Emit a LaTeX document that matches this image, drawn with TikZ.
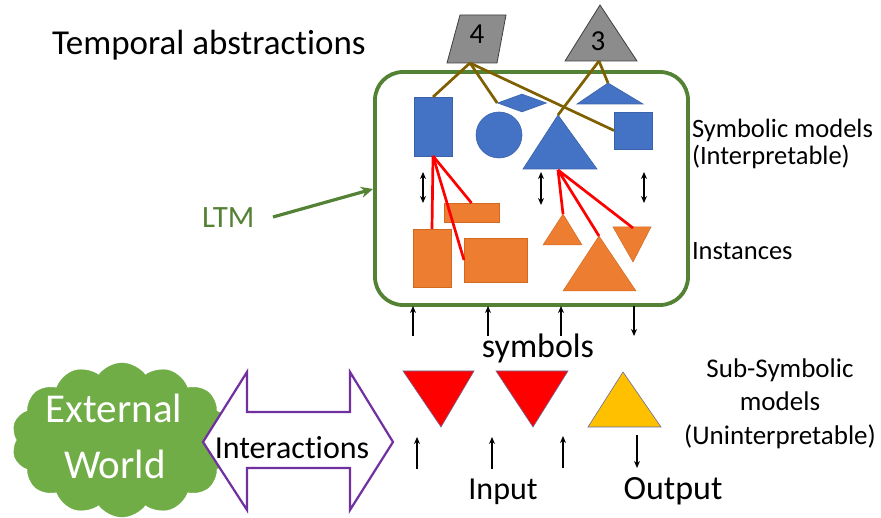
\documentclass[tikz,border=0pt]{standalone}
\usepackage{fontspec}
\setmainfont{Carlito}[Ligatures={CommonOff,ContextualOff}]
\usetikzlibrary{shapes.geometric,shapes.symbols,arrows.meta}
\definecolor{sblue}{HTML}{4472C4}
\definecolor{sblueline}{HTML}{3A62AA}
\definecolor{sorange}{HTML}{ED7D31}
\definecolor{sorline}{HTML}{D2691E}
\definecolor{cgreen}{HTML}{70AD47}
\definecolor{dgreen}{HTML}{548235}
\definecolor{brownl}{HTML}{7F6000}
\definecolor{purp}{HTML}{7030A0}
\definecolor{yel}{HTML}{FFC000}
\definecolor{gshape}{HTML}{8C8C8C}
\definecolor{gline}{HTML}{3F3F3F}
\definecolor{triline}{HTML}{6A6A9A}
\newcommand\fsz[1]{\fontsize{#1}{#1}\selectfont}
\begin{document}
\begin{tikzpicture}[x=1pt,y=-1pt,
  blueshape/.style={fill=sblue,draw=sblueline,line width=0.6pt},
  orshape/.style={fill=sorange,draw=sorline,line width=0.5pt},
  grayshape/.style={fill=gshape,draw=gline,line width=0.8pt},
  brownln/.style={draw=brownl,line width=2.7pt},
  redln/.style={draw=red,line width=2.7pt},
  arr/.style={line width=1.8pt,-{Stealth[length=7pt,width=6pt]}},
  darr/.style={line width=1.8pt,{Stealth[length=7pt,width=6pt]}-{Stealth[length=7pt,width=6pt]}},
  lbl/.style={inner sep=0pt,outer sep=0pt},
  rect/.style={rectangle,inner sep=0pt,outer sep=0pt}]
\useasboundingbox (0,0) rectangle (881,518);
\fill[white] (0,0) rectangle (881,518);

% Temporal abstraction shapes
\coordinate (p4a) at (460,15);
\coordinate (p4b) at (506,15);
\coordinate (p4c) at (497,63);
\coordinate (p4d) at (447,63);
\coordinate (p4bot) at (470,63);
\draw[grayshape] (p4a) -- (p4b) -- (p4c) -- (p4d) -- cycle;
\node[lbl] (four) at (477,34) {\fsz{29}4};
\coordinate (t3a) at (600,5);
\coordinate (t3l) at (565,61);
\coordinate (t3r) at (637,61);
\coordinate (t3bot) at (599,61);
\draw[grayshape] (t3a) -- (t3r) -- (t3l) -- cycle;
\node[lbl] (three) at (598,41) {\fsz{29}3};

% LTM box
\draw[dgreen,line width=3.8pt,rounded corners=28pt] (375,72) rectangle (688,305);
\coordinate (boxleft) at (373,189);

% Symbolic models (blue)
\node[rect,blueshape,minimum width=38pt,minimum height=59pt] (b1) at (433,126.5) {};
\node[circle,blueshape,minimum size=46pt,inner sep=0pt] (circ) at (499,135) {};
\node[diamond,blueshape,minimum width=49pt,minimum height=18pt,aspect=2.7,inner sep=0pt] (dia) at (522,103) {};
\coordinate (bta) at (558,115);
\coordinate (btl) at (523,169);
\coordinate (btr) at (597,169);
\coordinate (btbot) at (558,170);
\draw[blueshape] (bta) -- (btr) -- (btl) -- cycle;
\coordinate (sta) at (608,83);
\coordinate (stl) at (577,104);
\coordinate (str) at (643,104);
\draw[blueshape] (sta) -- (str) -- (stl) -- cycle;
\node[rect,blueshape,minimum width=38pt,minimum height=37pt] (sq) at (633,130.5) {};

% Instances (orange)
\node[rect,orshape,minimum width=55pt,minimum height=19pt] (thin) at (471.5,212.5) {};
\node[rect,orshape,minimum width=38pt,minimum height=58pt] (tall) at (432,258) {};
\node[rect,orshape,minimum width=63pt,minimum height=44pt] (wide) at (495.5,260) {};
\coordinate (ota) at (563,214);
\coordinate (otl) at (543,245);
\coordinate (otr) at (582,245);
\draw[orshape] (ota) -- (otr) -- (otl) -- cycle;
\coordinate (oba) at (599,236);
\coordinate (obl) at (563,291);
\coordinate (obr) at (636,291);
\draw[orshape] (oba) -- (obr) -- (obl) -- cycle;
\coordinate (oil) at (613,227);
\coordinate (oir) at (651,227);
\coordinate (oib) at (633,262);
\coordinate (oitop) at (633,228);
\draw[orshape] (oil) -- (oir) -- (oib) -- cycle;

% brown links
\draw[brownln] (p4bot) -- (b1.north);
\draw[brownln] (p4bot) -- (dia.west);
\draw[brownln] (p4bot) -- (sq.west);
\draw[brownln] (t3bot) -- (bta);
\draw[brownln] (t3bot) -- (sta);

% red links
\draw[redln] (b1.south) -- (tall.north);
\draw[redln] (b1.south) -- (wide.west);
\draw[redln] (b1.south) -- (thin.north);
\draw[redln] (btbot) -- (ota);
\draw[redln] (btbot) -- (oba);
\draw[redln] (btbot) -- (oitop);

% double arrows
\coordinate (d1t) at (423,172); \coordinate (d1b) at (423,203);
\coordinate (d2t) at (541,172); \coordinate (d2b) at (541,205);
\coordinate (d3t) at (644,172); \coordinate (d3b) at (644,203);
\draw[darr] (d1t) -- (d1b);
\draw[darr] (d2t) -- (d2b);
\draw[darr] (d3t) -- (d3b);

% labels right
\node[lbl,anchor=base west] (symmod) at (692,138) {\fsz{26.5}Symbolic models};
\node[lbl,anchor=base west] (interp) at (692,165) {\fsz{26.5}(Interpretable)};
\node[lbl,anchor=base west] (inst) at (692,260) {\fsz{26.5}Instances};

% title
\node[lbl,anchor=base west] (title) at (52,55) {\fsz{35}Temporal abstract\kern0pt ions};

% LTM
\node[lbl,anchor=base west,text=dgreen] (ltm) at (202,228) {\fsz{31}LTM};
\coordinate (ltms) at (273,217);
\draw[dgreen,line width=3.2pt,-{Stealth[length=12pt,width=11pt]}] (ltms) -- (boxleft);

% arrows between box and subsymbolic
\coordinate (u1b) at (413,336); \coordinate (u1t) at (413,306);
\coordinate (u2b) at (488,336); \coordinate (u2t) at (488,306);
\coordinate (u3b) at (561,336); \coordinate (u3t) at (561,306);
\coordinate (dnt) at (634,306); \coordinate (dnb) at (634,336);
\draw[arr] (u1b) -- (u1t);
\draw[arr] (u2b) -- (u2t);
\draw[arr] (u3b) -- (u3t);
\draw[arr] (dnt) -- (dnb);

\node[lbl,anchor=base] (symbols) at (538,358) {\fsz{34}symbols};

% sub-symbolic triangles
\coordinate (r1l) at (403,371); \coordinate (r1r) at (474,371); \coordinate (r1b) at (441,427);
\draw[fill=red,draw=triline,line width=0.6pt] (r1l) -- (r1r) -- (r1b) -- cycle;
\coordinate (r2l) at (496,371); \coordinate (r2r) at (568,371); \coordinate (r2b) at (533,427);
\draw[fill=red,draw=triline,line width=0.6pt] (r2l) -- (r2r) -- (r2b) -- cycle;
\coordinate (ya) at (623,372); \coordinate (yl) at (588,427); \coordinate (yr) at (661,427);
\draw[fill=yel,draw=triline,line width=0.6pt] (ya) -- (yr) -- (yl) -- cycle;

% lower arrows
\coordinate (i1b) at (417,469); \coordinate (i1t) at (417,437);
\coordinate (i2b) at (492,469); \coordinate (i2t) at (492,437);
\coordinate (i3b) at (563,468); \coordinate (i3t) at (563,436);
\coordinate (ot) at (637,435); \coordinate (ob) at (637,468);
\draw[arr] (i1b) -- (i1t);
\draw[arr] (i2b) -- (i2t);
\draw[arr] (i3b) -- (i3t);
\draw[arr] (ot) -- (ob);

\node[lbl,anchor=base] (input) at (503,499) {\fsz{32}Input};
\node[lbl,anchor=base] (output) at (673,499) {\fsz{34}Output};

\node[lbl,anchor=base] (sub1) at (780,378) {\fsz{27}Sub-Symbolic};
\node[lbl,anchor=base] (sub2) at (780,411) {\fsz{27}models};
\node[lbl,anchor=base] (sub3) at (780,444) {\fsz{27}(Uninterpretable)};

% cloud
\node[cloud,cloud puffs=14,cloud puff arc=110,aspect=1.45,fill=cgreen,draw=cgreen,
      minimum width=220pt,minimum height=154pt,inner sep=0pt] (cloud) at (122,440) {};
\node[lbl,anchor=base,text=white] (ext) at (114,423) {\fsz{41}External};
\node[lbl,anchor=base,text=white] (world) at (115,478) {\fsz{41}World};

% interactions double arrow
\coordinate (ia1) at (203,442);
\coordinate (ia2) at (247,372);
\coordinate (ia3) at (247,412);
\coordinate (ia4) at (350,412);
\coordinate (ia5) at (350,372);
\coordinate (ia6) at (393,442);
\coordinate (ia7) at (350,510);
\coordinate (ia8) at (350,468);
\coordinate (ia9) at (247,468);
\coordinate (ia10) at (247,510);
\draw[purp,fill=white,line width=2.2pt,line join=miter]
  (ia1) -- (ia2) -- (ia3) -- (ia4) -- (ia5) -- (ia6) -- (ia7) -- (ia8) -- (ia9) -- (ia10) -- cycle;
\node[lbl,anchor=base] (inter) at (292,458) {\fsz{32}Interact\kern0pt ions};
\end{tikzpicture}
\end{document}
